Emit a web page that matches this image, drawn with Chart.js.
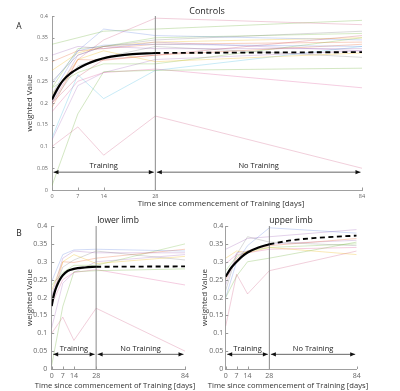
<!DOCTYPE html>
<html>
<head>
<meta charset="utf-8">
<script src="https://cdn.jsdelivr.net/npm/chart.js@4"></script>
<style>
  html, body { margin: 0; padding: 0; background: #fff; }
  #wrap { position: relative; width: 400px; height: 391px; overflow: hidden; font-family: "Open Sans", sans-serif; }
  .cv { position: absolute; }
  .txt { position: absolute; transform: translate(-50%, -50%); white-space: nowrap; color: #222; z-index: 5; }
  .xt { color: #333; }
</style>
</head>
<body>
<div id="wrap">
  <canvas id="cA" class="cv" width="400" height="215" style="left:0;top:0;"></canvas>
  <canvas id="cL" class="cv" width="200" height="176" style="left:0;top:215px;"></canvas>
  <canvas id="cU" class="cv" width="200" height="176" style="left:200px;top:215px;"></canvas>
  <div class="txt" style="left:207px;top:10px;font-size:9px;">Controls</div>
  <div class="txt" style="left:19px;top:25px;font-size:8.5px;">A</div>
  <div class="txt" style="left:19px;top:232px;font-size:8.5px;">B</div>
  <div class="txt" style="left:118px;top:219px;font-size:8.5px;">lower limb</div>
  <div class="txt" style="left:291px;top:219px;font-size:8.5px;">upper limb</div>
  <div class="txt xt" id="xtA" style="left:221px;top:203px;font-size:7.9px;"></div>
  <div class="txt xt" id="xtL" style="left:115px;top:385px;font-size:7.6px;"></div>
  <div class="txt xt" id="xtU" style="left:288px;top:385px;font-size:7.6px;"></div>
</div>
<script>
// ---------------- data ----------------
const days = [0, 7, 14, 28, 84];
const xTicks = [0, 7, 14, 28, 84];
const yTicks = [0, 0.05, 0.1, 0.15, 0.2, 0.25, 0.3, 0.35, 0.4];
const yTickLabels = ['0', '0.05', '0.1', '0.15', '0.2', '0.25', '0.3', '0.35', '0.4'];
const xTitle = 'Time since commencement of Training [days]';
const yTitle = 'weighted Value';
const phaseLabels = ['Training', 'No Training'];
const phaseBounds = [0, 28, 84];
const arrowLevel = 0.041;
const dividerDay = 28;

// individual subjects, values at days 0, 7, 14, 28, 84
const lowerLimb = [
  [0.100, 0.145, 0.080, 0.170, 0.050],
  [0.010, 0.175, 0.272, 0.275, 0.280],
  [0.245, 0.320, 0.333, 0.335, 0.330],
  [0.205, 0.310, 0.330, 0.325, 0.325],
  [0.200, 0.285, 0.305, 0.330, 0.305],
  [0.220, 0.300, 0.320, 0.295, 0.315],
  [0.190, 0.300, 0.298, 0.310, 0.335],
  [0.235, 0.270, 0.290, 0.290, 0.350],
  [0.180, 0.250, 0.270, 0.278, 0.235],
  [0.115, 0.240, 0.270, 0.300, 0.320]
];
const upperLimb = [
  [0.120, 0.265, 0.210, 0.275, 0.330],
  [0.200, 0.260, 0.300, 0.310, 0.355],
  [0.200, 0.300, 0.345, 0.395, 0.380],
  [0.335, 0.350, 0.365, 0.370, 0.390],
  [0.220, 0.320, 0.370, 0.355, 0.345],
  [0.310, 0.330, 0.325, 0.340, 0.320],
  [0.250, 0.310, 0.330, 0.345, 0.365],
  [0.275, 0.315, 0.330, 0.340, 0.350],
  [0.295, 0.320, 0.325, 0.335, 0.340],
  [0.235, 0.325, 0.330, 0.350, 0.360]
];
const controls = lowerLimb.concat(upperLimb);

// group fit curves
const fitCtrlTrainDays = [0, 1, 2, 3, 5, 7, 9, 12, 15, 18, 21, 28];
const fitCtrlTrainVals = [0.208, 0.225, 0.240, 0.252, 0.268, 0.279, 0.288, 0.298, 0.305, 0.309, 0.312, 0.315];
const fitCtrlPostDays = [28, 84];
const fitCtrlPostVals = [0.315, 0.317];

const fitLowerTrainDays = [0, 1, 2, 3, 4, 5, 7, 10, 14, 21, 28];
const fitLowerTrainVals = [0.176, 0.200, 0.217, 0.230, 0.240, 0.249, 0.262, 0.274, 0.280, 0.284, 0.286];
const fitLowerPostDays = [28, 84];
const fitLowerPostVals = [0.286, 0.287];

const fitUpperTrainDays = [0, 3, 7, 10, 14, 21, 28];
const fitUpperTrainVals = [0.258, 0.280, 0.300, 0.313, 0.326, 0.340, 0.349];
const fitUpperPostDays = [28, 42, 56, 70, 84];
const fitUpperPostVals = [0.349, 0.360, 0.366, 0.370, 0.373];

['xtA', 'xtL', 'xtU'].forEach(id => { document.getElementById(id).textContent = xTitle; });

// ---------------- styling ----------------
const palette = [
  'rgba(200,60,110,0.28)', 'rgba(110,175,60,0.34)', 'rgba(70,110,220,0.28)',
  'rgba(140,70,170,0.28)', 'rgba(120,120,120,0.30)', 'rgba(240,190,40,0.38)',
  'rgba(230,90,40,0.32)', 'rgba(120,190,70,0.34)', 'rgba(220,80,150,0.32)',
  'rgba(150,80,180,0.28)', 'rgba(80,190,230,0.34)', 'rgba(190,40,70,0.28)'
];
const FONT = '"Open Sans", sans-serif';

const pts = (xs, ys) => xs.map((x, i) => ({ x: x, y: ys[i] }));

const decorPlugin = {
  id: 'decor',
  afterDraw(chart) {
    const o = chart.options.plugins.decor;
    const ctx = chart.ctx;
    const xs = chart.scales.x, ys = chart.scales.y;
    const area = chart.chartArea;
    ctx.save();
    ctx.strokeStyle = '#9a9a9a';
    ctx.lineWidth = 1;
    ctx.beginPath();
    xTicks.forEach(v => {
      const px = Math.round(xs.getPixelForValue(v)) + 0.5;
      ctx.moveTo(px, area.bottom); ctx.lineTo(px, area.bottom - o.tick);
    });
    yTicks.forEach(v => {
      const py = Math.round(ys.getPixelForValue(v)) + 0.5;
      ctx.moveTo(area.left, py); ctx.lineTo(area.left + o.tick, py);
    });
    ctx.stroke();
    const ay = ys.getPixelForValue(arrowLevel);
    for (let i = 0; i < phaseLabels.length; i++) {
      const xa = xs.getPixelForValue(phaseBounds[i]) + o.gap;
      const xb = xs.getPixelForValue(phaseBounds[i + 1]) - o.gap;
      ctx.strokeStyle = '#555';
      ctx.lineWidth = 0.9;
      ctx.beginPath(); ctx.moveTo(xa, ay); ctx.lineTo(xb, ay); ctx.stroke();
      ctx.fillStyle = '#111';
      ctx.beginPath(); ctx.moveTo(xa, ay); ctx.lineTo(xa + o.head, ay - 2.2); ctx.lineTo(xa + o.head, ay + 2.2); ctx.closePath(); ctx.fill();
      ctx.beginPath(); ctx.moveTo(xb, ay); ctx.lineTo(xb - o.head, ay - 2.2); ctx.lineTo(xb - o.head, ay + 2.2); ctx.closePath(); ctx.fill();
      ctx.fillStyle = '#222';
      ctx.font = o.labelSize + 'px ' + FONT;
      ctx.textAlign = 'center';
      ctx.textBaseline = 'middle';
      ctx.fillText(phaseLabels[i], (xa + xb) / 2, ay - o.labelOff);
    }
    ctx.restore();
  }
};

function makeChart(id, subjects, fit, g) {
  const datasets = [];
  datasets.push({ data: pts(fit[0], fit[1]), borderColor: '#000', borderWidth: g.fitW, pointRadius: 0, cubicInterpolationMode: 'monotone', order: 0 });
  datasets.push({ data: pts(fit[2], fit[3]), borderColor: '#000', borderWidth: g.fitW * 0.85, borderDash: g.dash, pointRadius: 0, cubicInterpolationMode: 'monotone', order: 0 });
  datasets.push({ data: [{ x: dividerDay, y: 0 }, { x: dividerDay, y: 0.4 }], borderColor: '#8a8a8a', borderWidth: 1, pointRadius: 0, order: 1 });
  subjects.forEach((s, i) => {
    datasets.push({ data: pts(days, s), borderColor: palette[i % palette.length], borderWidth: 0.9, pointRadius: 0, tension: 0, order: 2 });
  });
  return new Chart(document.getElementById(id), {
    type: 'line',
    data: { datasets: datasets },
    plugins: [decorPlugin],
    options: {
      responsive: false,
      animation: false,
      devicePixelRatio: 1,
      layout: { padding: g.pad },
      plugins: {
        legend: { display: false }, tooltip: { enabled: false }, title: { display: false },
        decor: { tick: 2.5, gap: g.gap, head: g.head, labelSize: g.phaseFont, labelOff: g.phaseOff }
      },
      scales: {
        x: {
          type: 'linear', min: 0, max: 84,
          afterBuildTicks: s => { s.ticks = xTicks.map(v => ({ value: v })); },
          afterFit: s => { s.height = g.xH; },
          ticks: { autoSkip: false, maxRotation: 0, font: { family: FONT, size: g.tickFont }, color: '#666', padding: g.xTickPad, callback: v => String(v) },
          grid: { display: true, drawOnChartArea: false, drawTicks: false },
          border: { display: true, color: '#a0a0a0', width: 1 },
          title: { display: false }
        },
        y: {
          type: 'linear', min: 0, max: 0.4,
          afterBuildTicks: s => { s.ticks = yTicks.map(v => ({ value: v })); },
          afterFit: s => { s.width = g.yW; },
          ticks: { autoSkip: false, font: { family: FONT, size: g.tickFont }, color: '#666', padding: g.yTickPad, callback: (v, i) => yTickLabels[i] },
          grid: { display: true, drawOnChartArea: false, drawTicks: false },
          border: { display: true, color: '#a0a0a0', width: 1 },
          title: { display: true, text: yTitle, color: '#333', font: { family: FONT, size: g.yTitleFont }, padding: { top: g.yTitlePad, bottom: 0 } }
        }
      }
    }
  });
}

makeChart('cA', controls,
  [fitCtrlTrainDays, fitCtrlTrainVals, fitCtrlPostDays, fitCtrlPostVals],
  { pad: { left: 25, right: 38, top: 16, bottom: 0 }, yW: 27, xH: 25, tickFont: 5.5, yTitleFont: 8,
    xTickPad: 3, yTickPad: 4, yTitlePad: 0, fitW: 2.2, dash: [5, 3.5],
    gap: 1.5, head: 5, phaseFont: 7.5, phaseOff: 6 });

makeChart('cL', lowerLimb,
  [fitLowerTrainDays, fitLowerTrainVals, fitLowerPostDays, fitLowerPostVals],
  { pad: { left: 25, right: 15, top: 11, bottom: 0 }, yW: 26.7, xH: 22, tickFont: 7, yTitleFont: 8,
    xTickPad: 3, yTickPad: 4.5, yTitlePad: 0, fitW: 2.2, dash: [5, 3.5],
    gap: 1.5, head: 5, phaseFont: 7.5, phaseOff: 5 });

makeChart('cU', upperLimb,
  [fitUpperTrainDays, fitUpperTrainVals, fitUpperPostDays, fitUpperPostVals],
  { pad: { left: 0, right: 43.3, top: 11, bottom: 0 }, yW: 25.7, xH: 22, tickFont: 7, yTitleFont: 8,
    xTickPad: 3, yTickPad: 2.5, yTitlePad: 0, fitW: 2.2, dash: [5, 3.5],
    gap: 1.5, head: 5, phaseFont: 7.5, phaseOff: 5 });
</script>
</body>
</html>
